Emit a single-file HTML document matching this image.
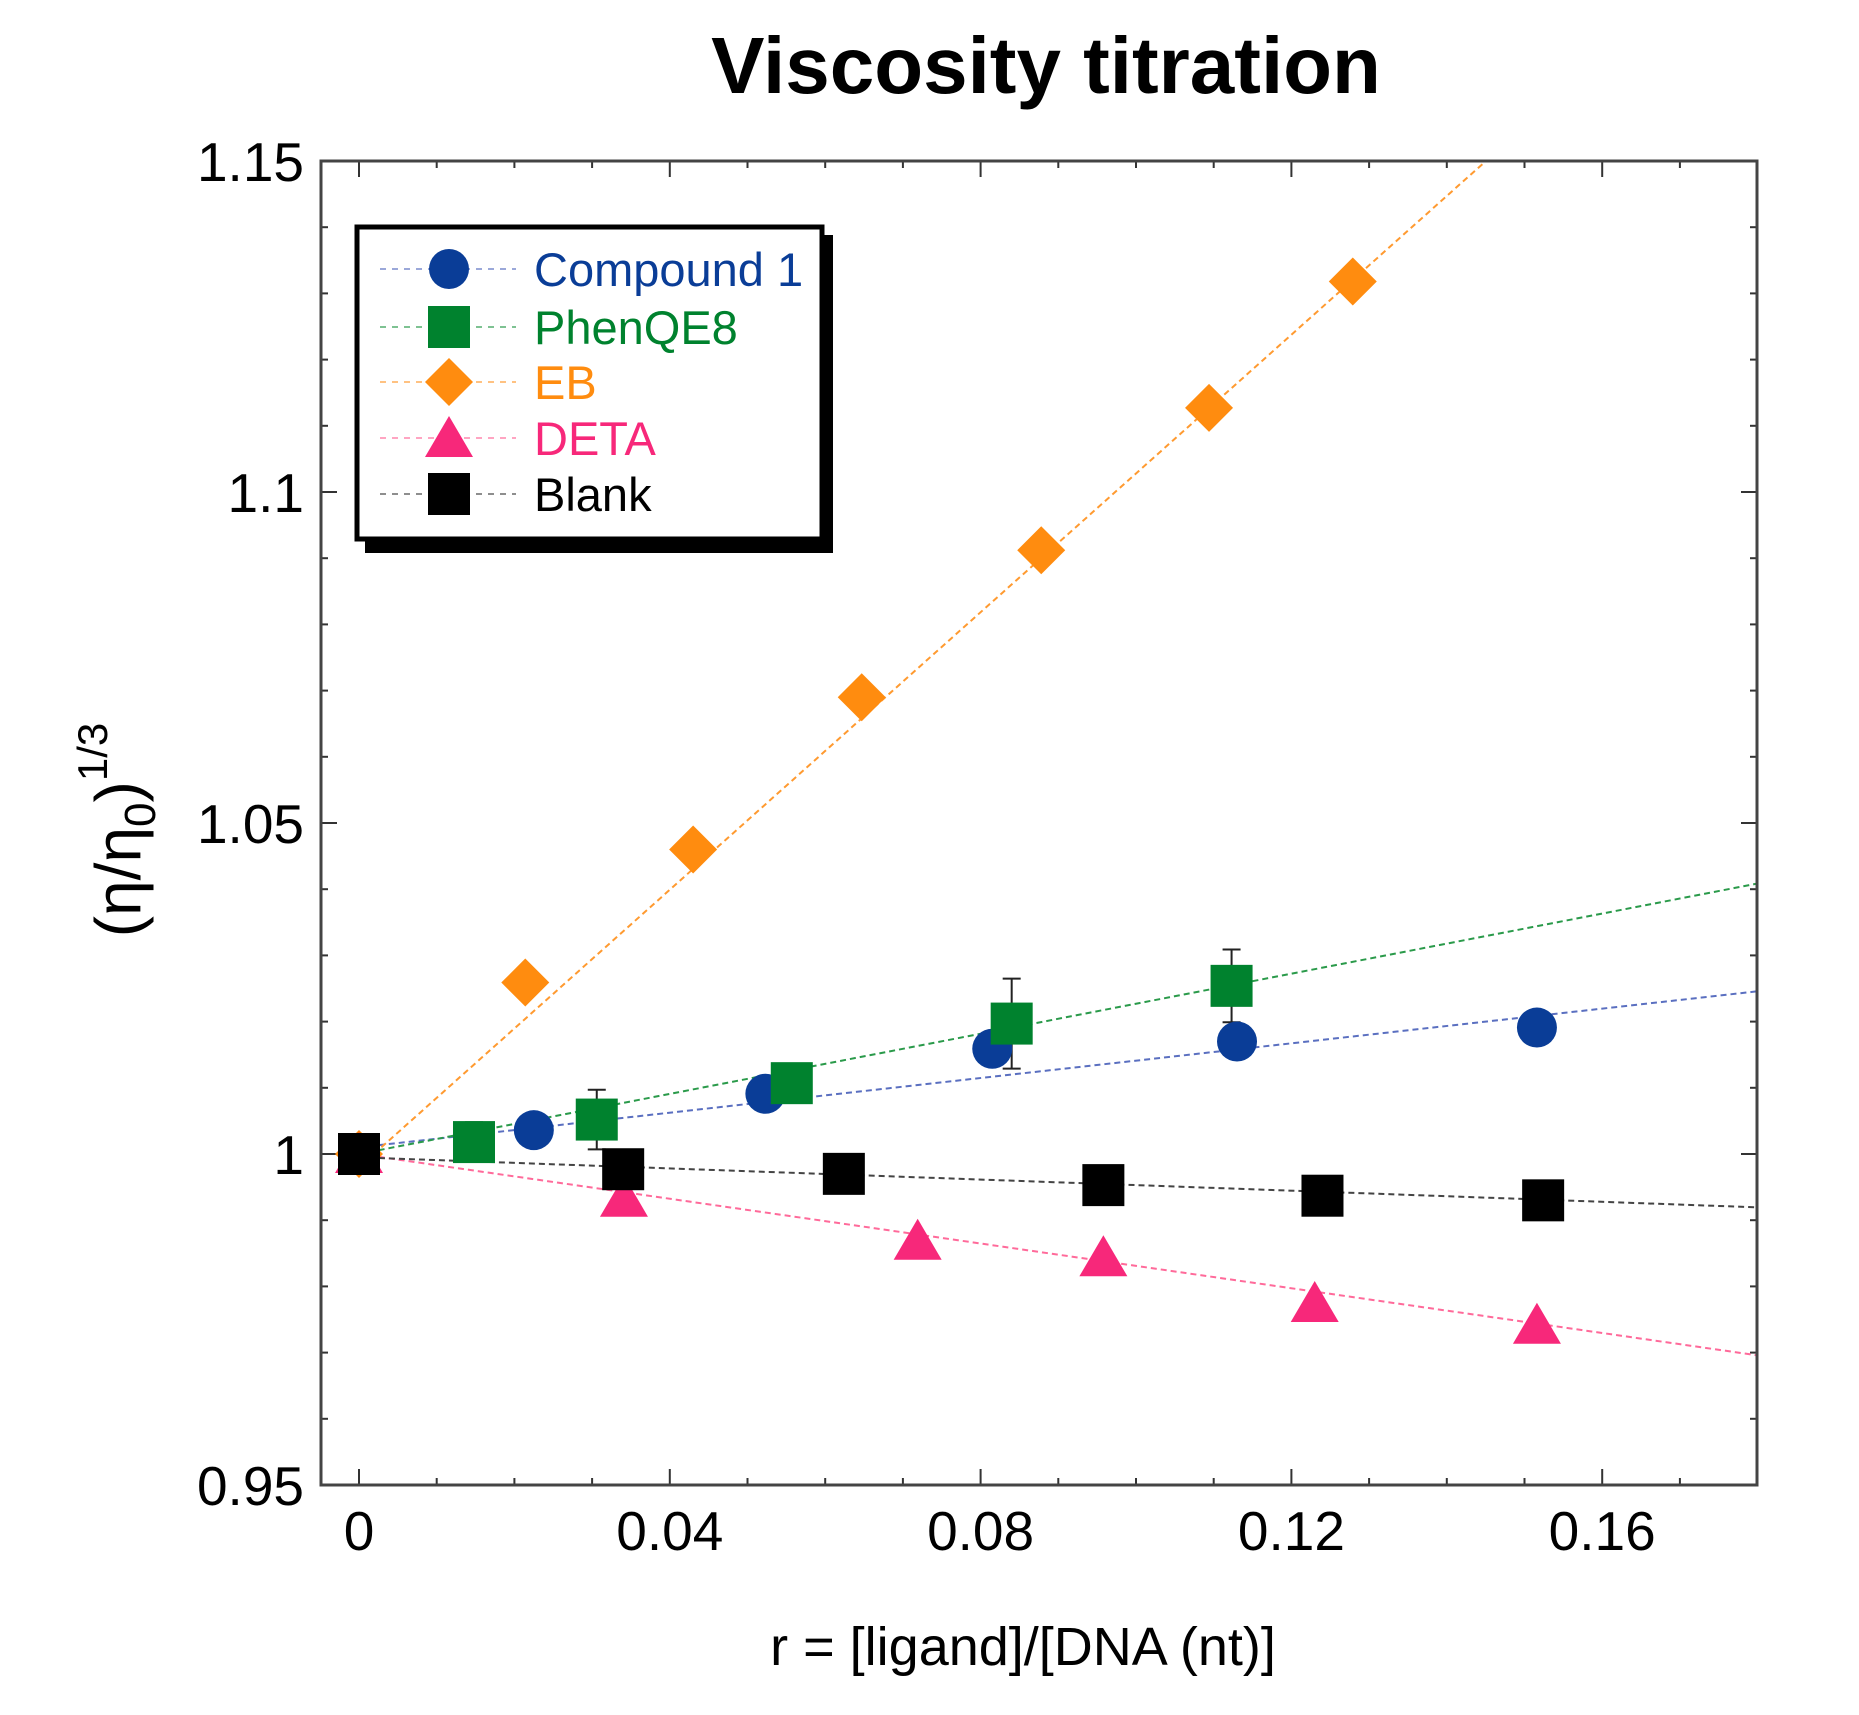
<!DOCTYPE html>
<html><head><meta charset="utf-8"><style>
html,body{margin:0;padding:0;background:#fff;}
svg{display:block;font-family:"Liberation Sans",Arial,sans-serif;}
</style></head><body>
<svg id="chart" width="1859" height="1715" viewBox="0 0 1859 1715">
<text x="1046" y="93" font-size="80" font-weight="bold" text-anchor="middle">Viscosity titration</text>
<g id="plot"></g>
<text x="1023" y="1665" font-size="54" text-anchor="middle">r = [ligand]/[DNA (nt)]</text>
<text transform="translate(140,830) rotate(-90)" font-size="64" text-anchor="middle">(η/η<tspan font-size="44" dy="15">0</tspan><tspan dy="-15">)</tspan><tspan font-size="42" dy="-33">1/3</tspan></text>
</svg>
<script>
const xTicks=[0,0.04,0.08,0.12,0.16];
const xTickLabels=["0","0.04","0.08","0.12","0.16"];
const yTicks=[0.95,1.0,1.05,1.1,1.15];
const yTickLabels=["0.95","1","1.05","1.1","1.15"];
const seriesNames=["Compound 1","PhenQE8","EB","DETA","Blank"];
const c1X=[0,0.0225,0.0523,0.0815,0.113,0.1516];
const c1Y=[1.0,1.0036,1.0091,1.0159,1.017,1.0191];
const phX=[0,0.0148,0.0306,0.0557,0.084,0.1123];
const phY=[1.0,1.0018,1.0052,1.0107,1.0197,1.0254];
const phErr=[0.003,0.003,0.0045,0.002,0.0068,0.0055];
const ebX=[0,0.0214,0.043,0.0647,0.0878,0.1094,0.1279];
const ebY=[1.0,1.0259,1.046,1.069,1.0912,1.1127,1.1318];
const detaX=[0,0.0341,0.0719,0.0958,0.123,0.1516];
const detaY=[1.0,0.9934,0.9869,0.9844,0.9775,0.9742];
const blankX=[0,0.034,0.0624,0.0958,0.124,0.1524];
const blankY=[1.0,0.9977,0.997,0.9953,0.9937,0.993];
const fitIntercepts=[1.001,1.0,0.998,1.0,0.9995];
const fitSlopes=[0.131,0.227,1.048,-0.169,-0.042];

const L=321,R=1757,T=161,B=1485;
const X0=0.0,X1=0.18,Y0=0.95,Y1=1.15;
const sx=v=>359+(v-0)*7770;
const sy=v=>B-(v-Y0)/(Y1-Y0)*(B-T);
const NS="http://www.w3.org/2000/svg";
const plot=document.getElementById('plot');
function mk(tag,attrs,parent){const e=document.createElementNS(NS,tag);for(const k in attrs)e.setAttribute(k,attrs[k]);(parent||plot).appendChild(e);return e;}

const defs=mk('defs',{});
const cp=mk('clipPath',{id:'clip'},defs);mk('rect',{x:L,y:T,width:R-L,height:B-T},cp);

for(let i=0;i<=18;i++){const v=i*0.01;const x=sx(v);if(x>R)continue;const major=(i%4===0);const len=major?16:7;
 const t1=mk('line',{x1:x,y1:B,x2:x,y2:B-len,stroke:'#333','stroke-width':2});
 
 const t2=mk('line',{x1:x,y1:T,x2:x,y2:T+len,stroke:'#333','stroke-width':2});
 }
for(let i=0;i<=20;i++){const v=0.95+i*0.01;const y=sy(v);const major=(i%5===0);const len=major?16:7;
 const t1=mk('line',{x1:L,y1:y,x2:L+len,y2:y,stroke:'#333','stroke-width':2});
 
 const t2=mk('line',{x1:R,y1:y,x2:R-len,y2:y,stroke:'#333','stroke-width':2});
 }
xTicks.forEach((v,i)=>{const t=mk('text',{x:sx(v),y:1550,'font-size':55,'text-anchor':'middle'});t.textContent=xTickLabels[i];
 });
yTicks.forEach((v,i)=>{const t=mk('text',{x:304,y:sy(v)+20,'font-size':55,'text-anchor':'end'});t.textContent=yTickLabels[i];
 });

const colors=['#0a3d97','#00822e','#ff8c0f','#f7287a','#000000'];
const lineColors=['#5a6fc0','#2a9a4a','#ff9a30','#ff6a9a','#444'];
const markers=['circle','square','diamond','triangle','square'];
const xs=[c1X,phX,ebX,detaX,blankX];
const ys=[c1Y,phY,ebY,detaY,blankY];

function marker(type,cx,cy,color,parent){
 if(type==='circle')return mk('circle',{cx,cy,r:20,fill:color},parent);
 if(type==='square')return mk('rect',{x:cx-21,y:cy-21,width:42,height:42,fill:color},parent);
 if(type==='diamond')return mk('polygon',{points:`${cx},${cy-24} ${cx+24},${cy} ${cx},${cy+24} ${cx-24},${cy}`,fill:color},parent);
 return mk('polygon',{points:`${cx},${cy-22} ${cx+24},${cy+19} ${cx-24},${cy+19}`,fill:color},parent);
}

const lg=mk('g',{'clip-path':'url(#clip)'});
for(let s=0;s<5;s++){const a=fitIntercepts[s],b=fitSlopes[s];
 const ln=mk('line',{x1:sx(0),y1:sy(a),x2:sx(X1),y2:sy(a+b*X1),stroke:lineColors[s],'stroke-width':2,'stroke-dasharray':'6,4'},lg);
 }
phX.forEach((v,i)=>{const x=sx(v),y1=sy(phY[i]+phErr[i]),y2=sy(phY[i]-phErr[i]);
 const g=mk('g',{stroke:'#222','stroke-width':2});
 
 mk('line',{x1:x,y1:y1,x2:x,y2:y2},g);mk('line',{x1:x-9,y1:y1,x2:x+9,y2:y1},g);mk('line',{x1:x-9,y1:y2,x2:x+9,y2:y2},g);});
[2,3,0,1,4].forEach(s=>{xs[s].forEach((v,i)=>{const m=marker(markers[s],sx(v),sy(ys[s][i]),colors[s]);
 });});

const fr=mk('rect',{x:L,y:T,width:R-L,height:B-T,fill:'none',stroke:'#444','stroke-width':3});


const leg=mk('g',{});

mk('rect',{x:365,y:235,width:468,height:318,fill:'#000'},leg);
mk('rect',{x:357,y:227,width:465,height:312,fill:'#fff',stroke:'#000','stroke-width':5},leg);
const rowY=[269,327,382,438,494];
for(let s=0;s<5;s++){const g=mk('g',{},leg);
 
 mk('line',{x1:380,y1:rowY[s],x2:516,y2:rowY[s],stroke:lineColors[s],'stroke-width':2,'stroke-dasharray':'6,6','opacity':0.6},g);
 marker(markers[s],449,rowY[s],colors[s],g);
 const t=mk('text',{x:534,y:rowY[s]+17,'font-size':47,fill:colors[s]},g);t.textContent=seriesNames[s];}
</script>
</body></html>
